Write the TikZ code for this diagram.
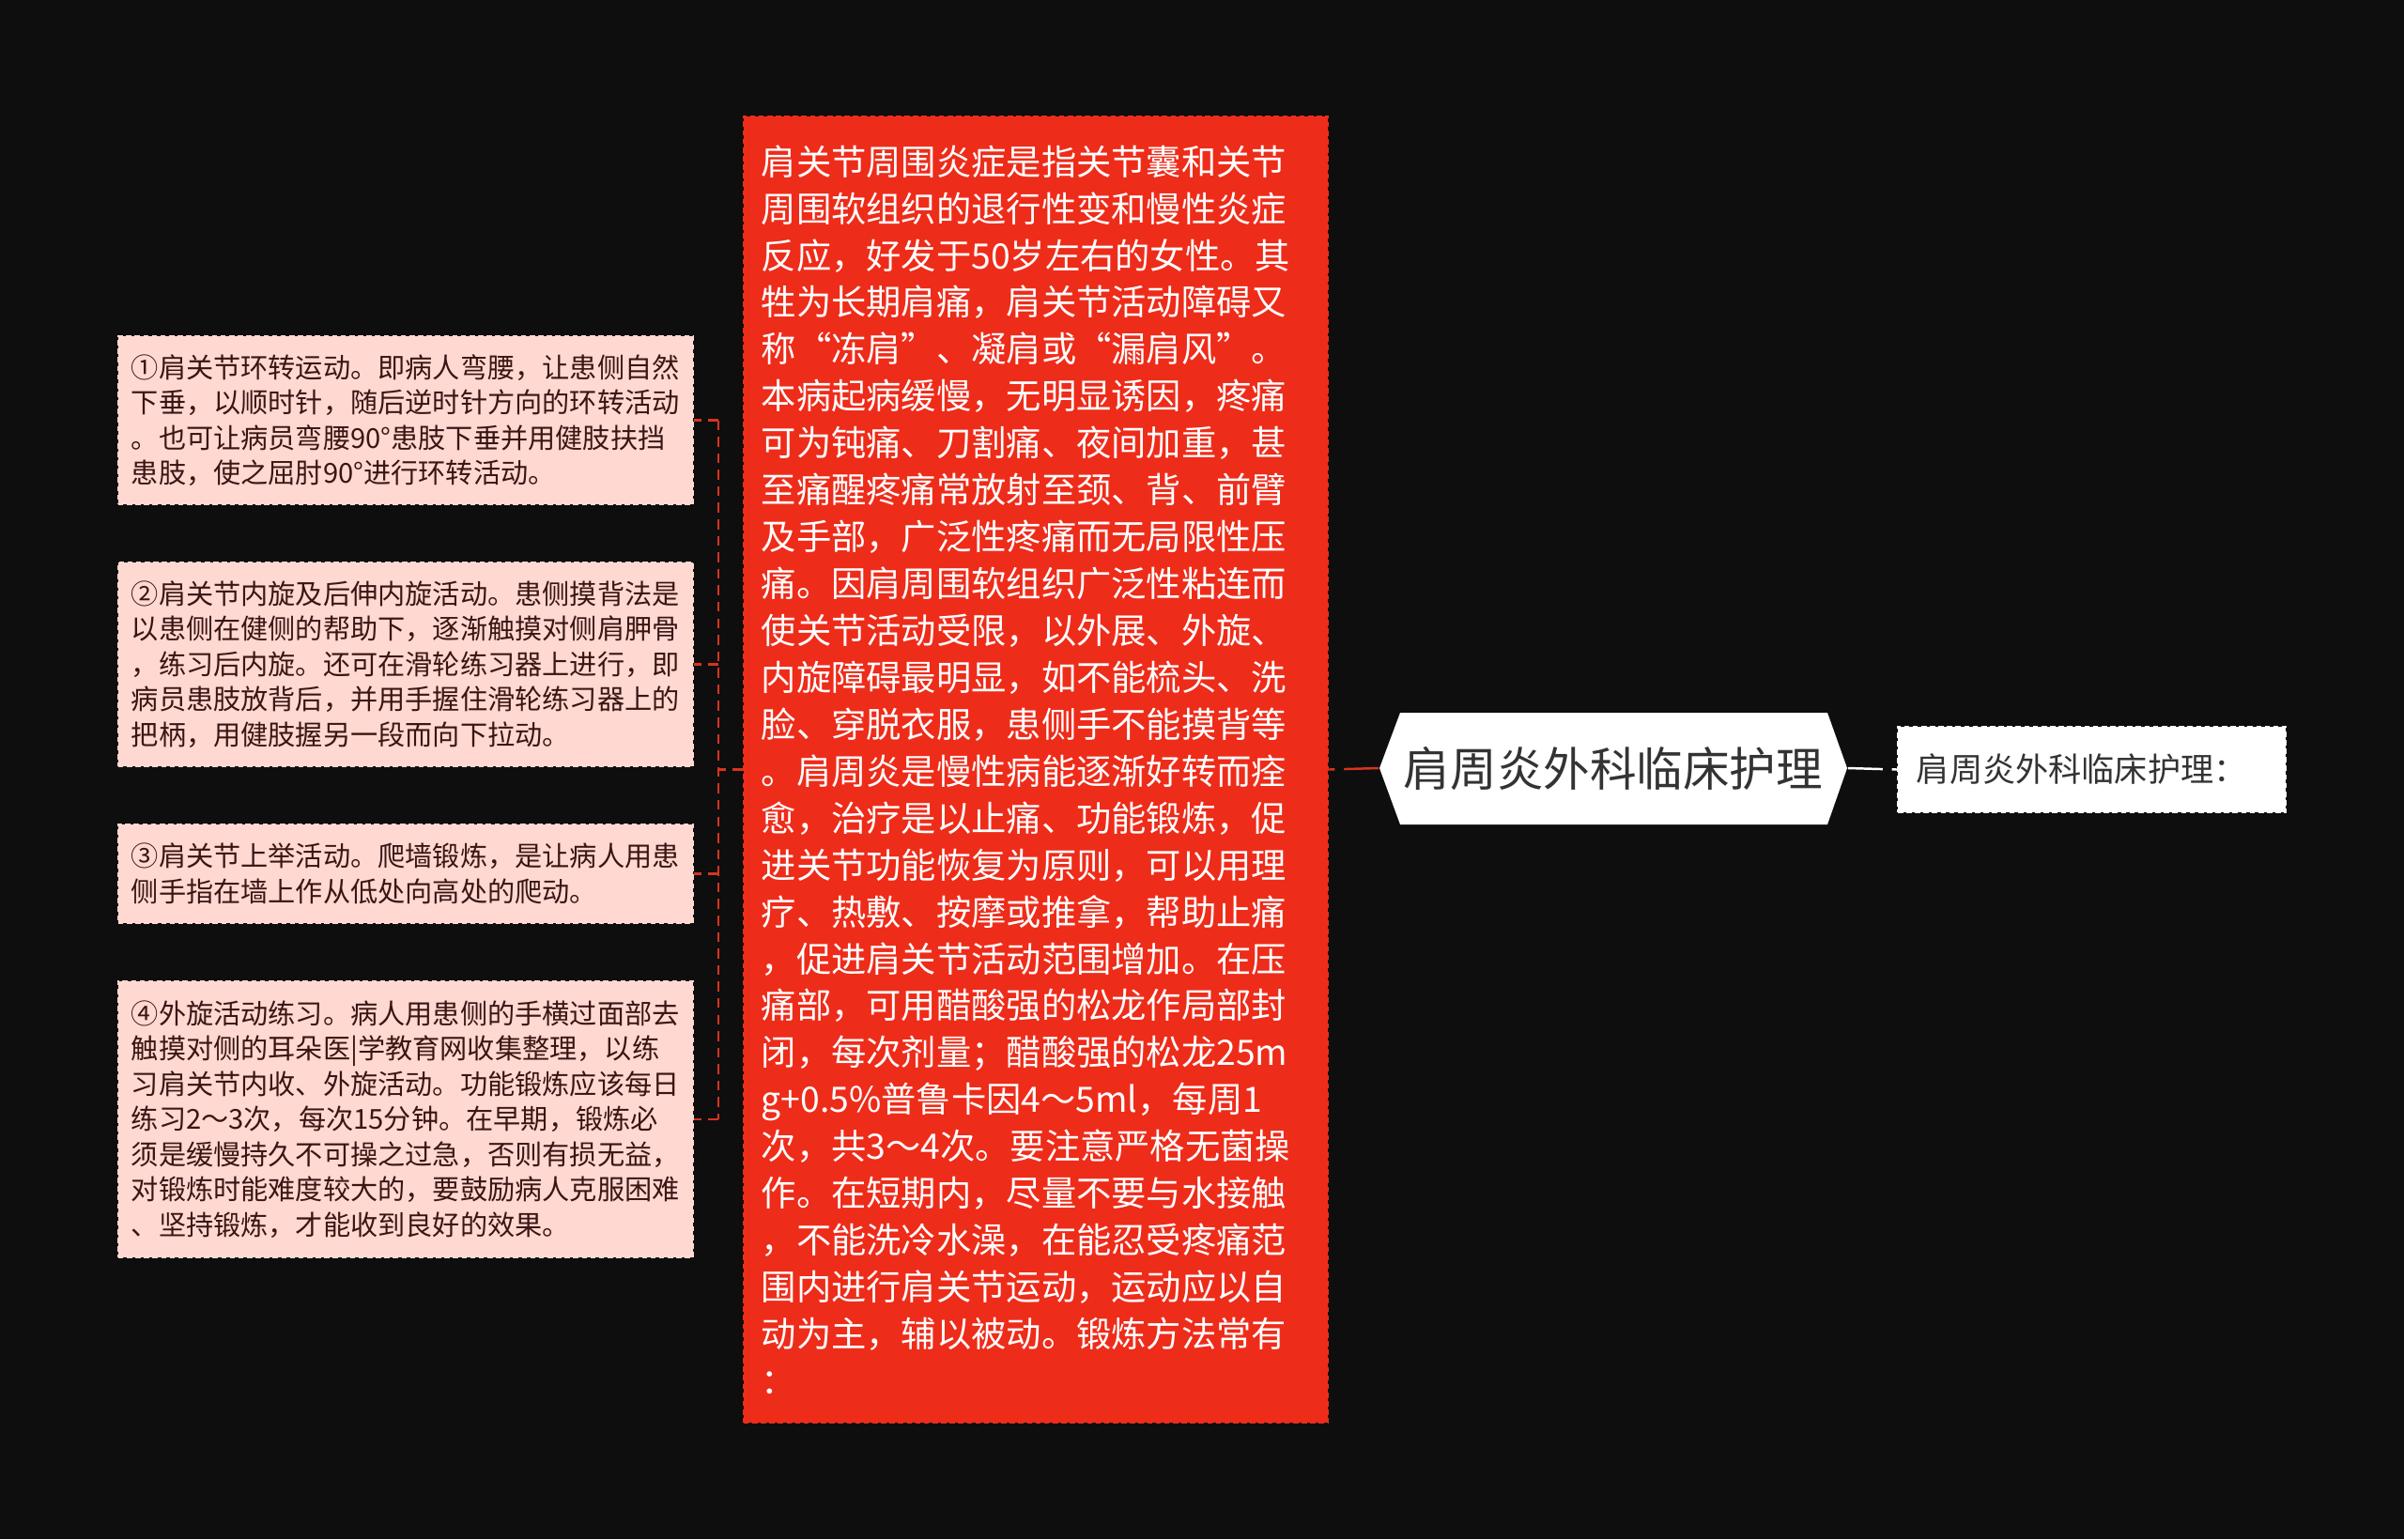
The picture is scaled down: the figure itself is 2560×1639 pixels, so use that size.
\documentclass[tikz,border=0pt]{standalone}
\usepackage{fontspec}
\setmainfont{Noto Sans CJK SC}
\newcommand{\fq}[1]{{\addfontfeature{RawFeature=+fwid}#1}}
\definecolor{bgdark}{HTML}{0E0E0E}
\definecolor{mainred}{HTML}{EE2C1A}
\definecolor{leafpink}{HTML}{FFD8D2}
\definecolor{leaftext}{HTML}{3A1512}
\definecolor{linkred}{HTML}{D8341F}
\definecolor{titletext}{HTML}{333333}
\begin{document}
\begin{tikzpicture}[
    x=0.01cm, y=-0.01cm,
    leaf/.style={rectangle, draw=leafpink, fill=leafpink, line width=0.6pt, dash pattern=on 1.6pt off 1pt,
        minimum width=6.12cm, text width=5.84cm, align=left, inner sep=0pt, text=leaftext,
        font=\fontsize{8.3pt}{10.67pt}\selectfont},
    mainbox/.style={rectangle, draw=mainred, fill=mainred, line width=0.6pt, dash pattern=on 1.6pt off 1pt,
        minimum width=6.22cm, minimum height=13.91cm, text width=5.84cm, align=left, inner sep=0pt, text=white,
        font=\fontsize{10.6pt}{14.2pt}\selectfont},
    notebox/.style={rectangle, draw=white, fill=white, line width=0.6pt, dash pattern=on 1.6pt off 1pt,
        minimum width=4.13cm, minimum height=0.91cm, text width=3.73cm, align=left, inner sep=0pt, text=titletext,
        font=\fontsize{10pt}{12pt}\selectfont},
    link/.style={draw=linkred, line width=0.7pt, dash pattern=on 3pt off 2pt},
    longlink/.style={line width=0.7pt, dash pattern=on 10.5pt off 2.8pt}
]
    % Sfondo
    \fill[bgdark] (0,0) rectangle (2560,1639);
    \useasboundingbox (0,0) rectangle (2560,1639);

    % Nodo centrale
    \fill[white] (1469,818) -- (1491,759) -- (1946,759) -- (1967,818) -- (1946,878) -- (1491,878) -- cycle;
    \node[minimum width=4.98cm, minimum height=1.19cm, inner sep=0pt, text=titletext,
        font=\fontsize{14.1pt}{17pt}\selectfont] (title) at (1718,818) {肩周炎外科临床护理};

    % Nota a destra
    \node[notebox] (note) at (2227.5,819.5) {肩周炎外科临床护理：};

    % Testo principale
    \node[mainbox] (intro) at (1103,819.5) {%
        肩关节周围炎症是指关节囊和关节\\
        周围软组织的退行性变和慢性炎症\\
        反应，好发于50岁左右的女性。其\\
        牲为长期肩痛，肩关节活动障碍又\\
        称\fq{“}冻肩\fq{”}、凝肩或\fq{“}漏肩风\fq{”}。\\
        本病起病缓慢，无明显诱因，疼痛\\
        可为钝痛、刀割痛、夜间加重，甚\\
        至痛醒疼痛常放射至颈、背、前臂\\
        及手部，广泛性疼痛而无局限性压\\
        痛。因肩周围软组织广泛性粘连而\\
        使关节活动受限，以外展、外旋、\\
        内旋障碍最明显，如不能梳头、洗\\
        脸、穿脱衣服，患侧手不能摸背等\\
        。肩周炎是慢性病能逐渐好转而痊\\
        愈，治疗是以止痛、功能锻炼，促\\
        进关节功能恢复为原则，可以用理\\
        疗、热敷、按摩或推拿，帮助止痛\\
        ，促进肩关节活动范围增加。在压\\
        痛部，可用醋酸强的松龙作局部封\\
        闭，每次剂量；醋酸强的松龙25m\\
        g+0.5\%普鲁卡因4～5ml，每周1\\
        次，共3～4次。要注意严格无菌操\\
        作。在短期内，尽量不要与水接触\\
        ，不能洗冷水澡，在能忍受疼痛范\\
        围内进行肩关节运动，运动应以自\\
        动为主，辅以被动。锻炼方法常有\\
        ：};

    % Esercizi
    \node[leaf, minimum height=1.79cm] (ex1) at (432,447.5) {%
        ①肩关节环转运动。即病人弯腰，让患侧自然\\
        下垂，以顺时针，随后逆时针方向的环转活动\\
        。也可让病员弯腰90°患肢下垂并用健肢扶挡\\
        患肢，使之屈肘90°进行环转活动。};
    \node[leaf, minimum height=2.17cm] (ex2) at (432,707.5) {%
        ②肩关节内旋及后伸内旋活动。患侧摸背法是\\
        以患侧在健侧的帮助下，逐渐触摸对侧肩胛骨\\
        ，练习后内旋。还可在滑轮练习器上进行，即\\
        病员患肢放背后，并用手握住滑轮练习器上的\\
        把柄，用健肢握另一段而向下拉动。};
    \node[leaf, minimum height=1.05cm] (ex3) at (432,930.5) {%
        ③肩关节上举活动。爬墙锻炼，是让病人用患\\
        侧手指在墙上作从低处向高处的爬动。};
    \node[leaf, minimum height=2.94cm] (ex4) at (432,1192) {%
        ④外旋活动练习。病人用患侧的手横过面部去\\
        触摸对侧的耳朵医|学教育网收集整理，以练\\
        习肩关节内收、外旋活动。功能锻炼应该每日\\
        练习2～3次，每次15分钟。在早期，锻炼必\\
        须是缓慢持久不可操之过急，否则有损无益，\\
        对锻炼时能难度较大的，要鼓励病人克服困难\\
        、坚持锻炼，才能收到良好的效果。};

    % Collegamenti
    \coordinate (spine) at (765,819.5);
    \draw[link] (intro.west) -- (spine);
    \draw[link] (ex1.east -| spine) -- (ex4.east -| spine);
    \foreach \ex in {ex1,ex2,ex3,ex4}
        \draw[link] (\ex.east -| spine) -- (\ex.east);
    \draw[longlink, linkred] (title.west) -- (intro.east);
    \draw[longlink, white] (title.east) -- (note.west);
\end{tikzpicture}
\end{document}
